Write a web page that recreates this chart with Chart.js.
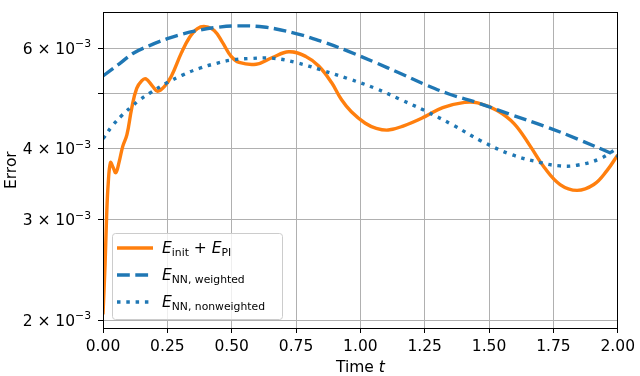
<!DOCTYPE html>
<html>
<head>
<meta charset="utf-8">
<script src="https://cdn.jsdelivr.net/npm/chart.js@4/dist/chart.umd.min.js"></script>
<style>
  html, body { margin: 0; padding: 0; background: #fff; }
  canvas { display: block; }
</style>
</head>
<body>
<canvas id="errChart" width="640" height="376"></canvas>
<script>
// E_init + E_PI  (error values in units of 1e-3)
const initTime = [0, 0.008, 0.014, 0.020, 0.029, 0.039, 0.050, 0.062, 0.077, 0.093,
  0.112, 0.131, 0.151, 0.166, 0.193, 0.212, 0.239, 0.266, 0.305, 0.336,
  0.367, 0.398, 0.432, 0.463, 0.498, 0.529, 0.595, 0.656, 0.722, 0.788,
  0.838, 0.888, 0.927, 0.965, 1.019, 1.062, 1.108, 1.166, 1.251, 1.320,
  1.405, 1.456, 1.533, 1.598, 1.660, 1.714, 1.776, 1.842, 1.907, 1.958, 2.0];
const initError = [2.05, 2.50, 3.04, 3.46, 3.78, 3.71, 3.63, 3.78, 4.04, 4.23,
  4.72, 5.10, 5.26, 5.30, 5.14, 5.04, 5.14, 5.36, 5.89, 6.26,
  6.49, 6.54, 6.44, 6.15, 5.80, 5.66, 5.62, 5.77, 5.91, 5.80,
  5.58, 5.22, 4.87, 4.64, 4.43, 4.34, 4.31, 4.38, 4.55, 4.72,
  4.82, 4.81, 4.66, 4.42, 4.04, 3.71, 3.46, 3.38, 3.46, 3.66, 3.90];

// E_NN, weighted
const weightedTime = [0, 0.066, 0.116, 0.181, 0.25, 0.309, 0.375, 0.44, 0.517, 0.625,
  0.75, 0.85, 0.954, 1.058, 1.154, 1.251, 1.347, 1.456, 1.583, 1.714, 1.842, 2.0];
const weightedError = [5.36, 5.64, 5.87, 6.06, 6.23, 6.35, 6.45, 6.52, 6.56, 6.53,
  6.36, 6.16, 5.92, 5.66, 5.42, 5.18, 4.98, 4.81, 4.59, 4.38, 4.16, 3.88];

// E_NN, nonweighted
const nonweightedTime = [0, 0.039, 0.077, 0.112, 0.143, 0.181, 0.25, 0.309, 0.375, 0.44,
  0.502, 0.568, 0.656, 0.749, 0.849, 0.954, 1.058, 1.154, 1.251, 1.359,
  1.467, 1.583, 1.7, 1.776, 1.842, 1.931, 2.0];
const nonweightedError = [4.16, 4.40, 4.59, 4.74, 4.87, 5.00, 5.22, 5.38, 5.53, 5.64,
  5.72, 5.75, 5.76, 5.66, 5.49, 5.30, 5.10, 4.88, 4.66, 4.40,
  4.13, 3.91, 3.78, 3.73, 3.74, 3.84, 4.01];

const xTicks = [0, 0.25, 0.5, 0.75, 1.0, 1.25, 1.5, 1.75, 2.0];
const yTicks = [2, 3, 4, 5, 6];          // x 1e-3
const yTickLabels = ['2', '3', '4', '', '6'];
const yExponent = '\u22123';

const FONT = '"DejaVu Sans", sans-serif';
const SIZE = 15.5;
const SUB = 10.8;
const BLUE = '#1f77b4';
const ORANGE = '#ff7f0e';

function toPoints(ts, vs) {
  return ts.map((t, i) => ({ x: t, y: vs[i] * 1e-3 }));
}

function setFont(ctx, k) {
  if (k === 'it') ctx.font = 'italic ' + SIZE + 'px ' + FONT;
  else if (k === 'sub' || k === 'sup') ctx.font = SUB + 'px ' + FONT;
  else ctx.font = SIZE + 'px ' + FONT;
}

// draw a run of mixed text (italic / roman / subscript / superscript)
function drawRich(ctx, x, y, segs) {
  for (const s of segs) {
    setFont(ctx, s.k);
    const dy = s.k === 'sub' ? 3.3 : (s.k === 'sup' ? -6.5 : 0);
    ctx.fillText(s.t, x, y + dy);
    x += ctx.measureText(s.t).width;
  }
  return x;
}
function richWidth(ctx, segs) {
  let w = 0;
  for (const s of segs) {
    setFont(ctx, s.k);
    w += ctx.measureText(s.t).width;
  }
  return w;
}

const legendRows = [
  { color: ORANGE, dash: [], segs: [{t: 'E', k: 'it'}, {t: 'init', k: 'sub'}, {t: ' + ', k: 'rm'}, {t: 'E', k: 'it'}, {t: 'PI', k: 'sub'}] },
  { color: BLUE, dash: [12.8, 5.5], segs: [{t: 'E', k: 'it'}, {t: 'NN, weighted', k: 'sub'}] },
  { color: BLUE, dash: [3.5, 5.8], segs: [{t: 'E', k: 'it'}, {t: 'NN, nonweighted', k: 'sub'}] }
];

const decorations = {
  id: 'decorations',
  afterDatasetsDraw(chart) {
    const ctx = chart.ctx;
    const a = chart.chartArea;
    ctx.save();
    // spines
    ctx.strokeStyle = '#000';
    ctx.lineWidth = 1;
    ctx.strokeRect(Math.round(a.left) + 0.5, Math.round(a.top) + 0.5,
      Math.round(a.right - a.left) - 1, Math.round(a.bottom - a.top));

    // legend
    const bx = a.left + 9, by = a.bottom - 95, bw = 170, bh = 86;
    ctx.beginPath();
    ctx.roundRect(bx + 0.5, by + 0.5, bw, bh, 3);
    ctx.fillStyle = 'rgba(255,255,255,0.8)';
    ctx.fill();
    ctx.strokeStyle = '#cccccc';
    ctx.stroke();
    legendRows.forEach((row, i) => {
      const ly = by + 15 + i * 27;
      ctx.beginPath();
      ctx.setLineDash(row.dash);
      ctx.lineCap = 'butt';
      ctx.strokeStyle = row.color;
      ctx.lineWidth = 3.4;
      ctx.moveTo(bx + 5, ly);
      ctx.lineTo(bx + 41, ly);
      ctx.stroke();
      ctx.setLineDash([]);
      ctx.fillStyle = '#000';
      ctx.textBaseline = 'alphabetic';
      ctx.textAlign = 'left';
      drawRich(ctx, bx + 50, ly + 5, row.segs);
    });
    ctx.restore();
  },
  afterDraw(chart) {
    const ctx = chart.ctx;
    const a = chart.chartArea;
    const yScale = chart.scales.y;
    ctx.save();
    ctx.fillStyle = '#000';
    ctx.textAlign = 'left';
    ctx.textBaseline = 'alphabetic';
    // y tick labels  m x 10^-3
    yTicks.forEach((m, i) => {
      if (!yTickLabels[i]) return;
      const py = yScale.getPixelForValue(m * 1e-3);
      const segs = [{t: yTickLabels[i] + ' \u00d7 10', k: 'rm'}, {t: yExponent, k: 'sup'}];
      const w = richWidth(ctx, segs);
      drawRich(ctx, a.left - 12 - w, py + 5.5, segs);
    });
    // x title
    const xt = [{t: 'Time ', k: 'rm'}, {t: 't', k: 'it'}];
    const xw = richWidth(ctx, xt);
    drawRich(ctx, (a.left + a.right) / 2 - xw / 2, 372, xt);
    // y title
    ctx.translate(15.5, (a.top + a.bottom) / 2);
    ctx.rotate(-Math.PI / 2);
    ctx.textAlign = 'center';
    ctx.font = SIZE + 'px ' + FONT;
    ctx.fillText('Error', 0, 0);
    ctx.restore();
  }
};

const ctx = document.getElementById('errChart').getContext('2d');
new Chart(ctx, {
  type: 'line',
  data: {
    datasets: [
      {
        label: 'E_NN, nonweighted',
        data: toPoints(nonweightedTime, nonweightedError),
        borderColor: BLUE,
        borderWidth: 3.4,
        borderDash: [3.5, 5.8],
        borderCapStyle: 'butt',
        pointRadius: 0,
        tension: 0.4,
        order: 1
      },
      {
        label: 'E_NN, weighted',
        data: toPoints(weightedTime, weightedError),
        borderColor: BLUE,
        borderWidth: 3.4,
        borderDash: [12.8, 5.5],
        borderCapStyle: 'butt',
        pointRadius: 0,
        tension: 0.4,
        order: 2
      },
      {
        label: 'E_init + E_PI',
        data: toPoints(initTime, initError),
        borderColor: ORANGE,
        borderWidth: 3.4,
        pointRadius: 0,
        tension: 0.4,
        order: 3
      }
    ]
  },
  options: {
    responsive: false,
    animation: false,
    layout: { padding: { top: 1, right: 19, left: 0, bottom: 0 } },
    plugins: { legend: { display: false }, tooltip: { enabled: false } },
    scales: {
      x: {
        type: 'linear',
        min: 0,
        max: 2,
        afterBuildTicks: (scale) => { scale.ticks = xTicks.map(v => ({ value: v })); },
        afterFit: (scale) => { scale.height = 48; },
        ticks: {
          color: '#000',
          font: { family: FONT, size: SIZE },
          padding: 5,
          maxRotation: 0,
          autoSkip: false,
          callback: (v) => Number(v).toFixed(2)
        },
        grid: { color: '#b0b0b0', lineWidth: 1, tickColor: '#000', tickLength: 5 },
        border: { display: true, color: '#000', width: 1 }
      },
      y: {
        type: 'logarithmic',
        min: 1.94e-3,
        max: 6.93e-3,
        afterBuildTicks: (scale) => { scale.ticks = yTicks.map(v => ({ value: v * 1e-3 })); },
        afterFit: (scale) => { scale.width = 103; },
        ticks: { callback: () => '', font: { family: FONT, size: SIZE } },
        grid: { color: '#b0b0b0', lineWidth: 1, tickColor: '#000', tickLength: 5 },
        border: { display: true, color: '#000', width: 1 }
      }
    }
  },
  plugins: [decorations]
});
</script>
</body>
</html>
